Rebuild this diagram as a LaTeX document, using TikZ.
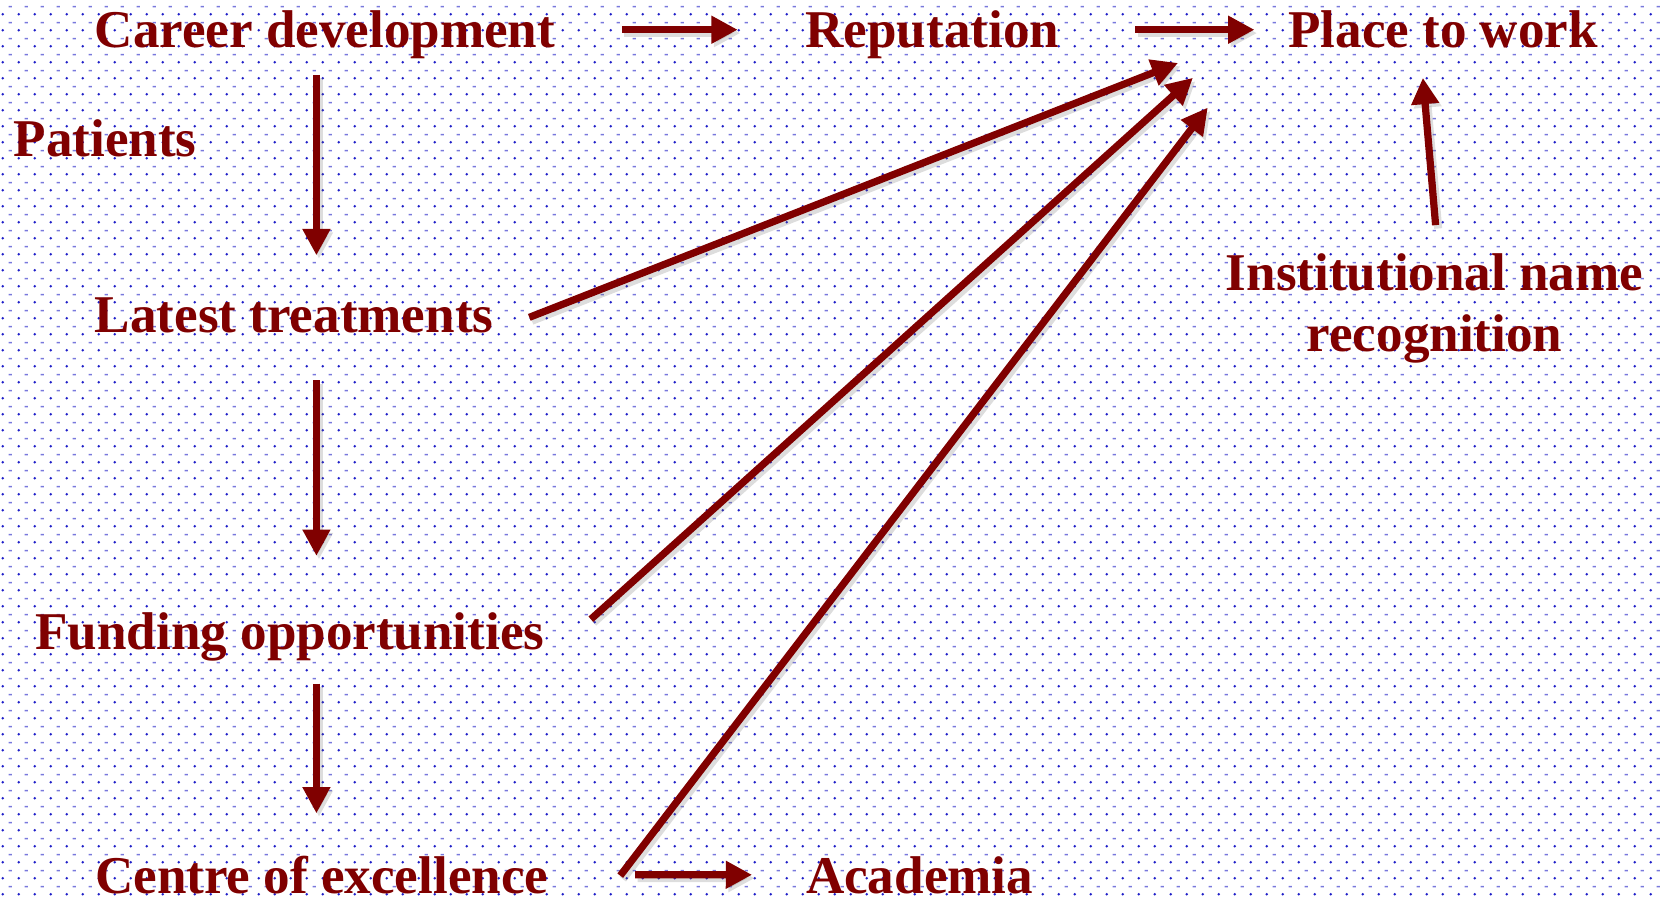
\documentclass[tikz,border=0pt]{standalone}
\usepackage{fontspec}
\setmainfont{Liberation Serif}
\usetikzlibrary{arrows.meta,patterns}
\definecolor{maroon}{RGB}{128,0,0}
\definecolor{dotblue}{RGB}{30,30,200}
\definecolor{dashblue}{RGB}{120,120,220}
\pgfdeclarepatterninherentlycolored{bgdots}{\pgfpointorigin}{\pgfqpoint{3.767pt}{3.767pt}}{\pgfqpoint{3.767pt}{3.767pt}}{%
  \pgfsetfillcolor{dotblue}%
  \pgfpathcircle{\pgfqpoint{0.94pt}{0.94pt}}{0.36pt}%
  \pgfusepath{fill}%
  \pgfsetfillcolor{dashblue}%
  \pgfpathrectangle{\pgfqpoint{2.43pt}{2.66pt}}{\pgfqpoint{0.8pt}{0.34pt}}%
  \pgfusepath{fill}%
}
\tikzset{
  lbl/.style={inner sep=0pt, text=maroon, font=\fontsize{12.5}{14.5}\selectfont\bfseries},
  arr/.style={draw=maroon, line width=1.7pt, -{Triangle[length=6.2pt,width=6.2pt]},
    preaction={draw=black!60, opacity=0.22, line width=1.9pt, transform canvas={shift={(0.6pt,-0.8pt)}}}},
}
\begin{document}
\begin{tikzpicture}[x=0.25pt,y=-0.25pt]
\useasboundingbox (0,0) rectangle (1568,845);
\fill[pattern=bgdots] (0,0) rectangle (1568,845);

\node[lbl, anchor=base] (career) at (306,45) {Career development};
\node[lbl, anchor=base] (reputation) at (878,45) {Reputation};
\node[lbl, anchor=base] (place) at (1359,45) {Place to work};
\node[lbl, anchor=base] (patients) at (99,147) {Patients};
\node[lbl, anchor=base] (latest) at (277,313) {Latest treatments};
\node[lbl, anchor=north, align=center] (inst) at (1351,238) {Institutional name\\recognition};
\node[lbl, anchor=base] (funding) at (273,612) {Funding opportunities};
\node[lbl, anchor=base] (centre) at (303,841) {Centre of excellence};
\node[lbl, anchor=base] (academia) at (866,841) {Academia};

\coordinate (row1) at (0,28);
\coordinate (spine) at (298,0);
\coordinate (t1) at ([shift={(-103,13)}]place.south west);
\coordinate (t2) at ([shift={(-89,27)}]place.south west);
\coordinate (t3) at ([shift={(-75,55)}]place.south west);
\coordinate (t4) at ([shift={(-19,27)}]place.south);

\draw[arr, shorten <=15.5pt, shorten >=15.75pt] (career.east |- row1) -- (reputation.west |- row1);
\draw[arr, shorten <=17.75pt, shorten >=7.75pt] (reputation.east |- row1) -- (place.west |- row1);
\draw[arr, shorten <=3.5pt, shorten >=9.75pt] (career.south -| spine) -- (latest.north -| spine);
\draw[arr, shorten <=11pt, shorten >=13.25pt] (latest.south -| spine) -- (funding.north -| spine);
\draw[arr, shorten <=5pt, shorten >=9.75pt] (funding.south -| spine) -- (centre.north -| spine);
\draw[arr, shorten <=20.25pt, shorten >=12.5pt] (centre.east) -- (academia.west);
\draw[arr] ([shift={(33,2)}]latest.east) -- (t1);
\draw[arr] ([shift={(43,-17)}]funding.east) -- (t2);
\draw[arr] ([shift={(67,1)}]centre.east) -- (t3);
\draw[arr] ([shift={(1,-26)}]inst.north) -- (t4);
\end{tikzpicture}
\end{document}
